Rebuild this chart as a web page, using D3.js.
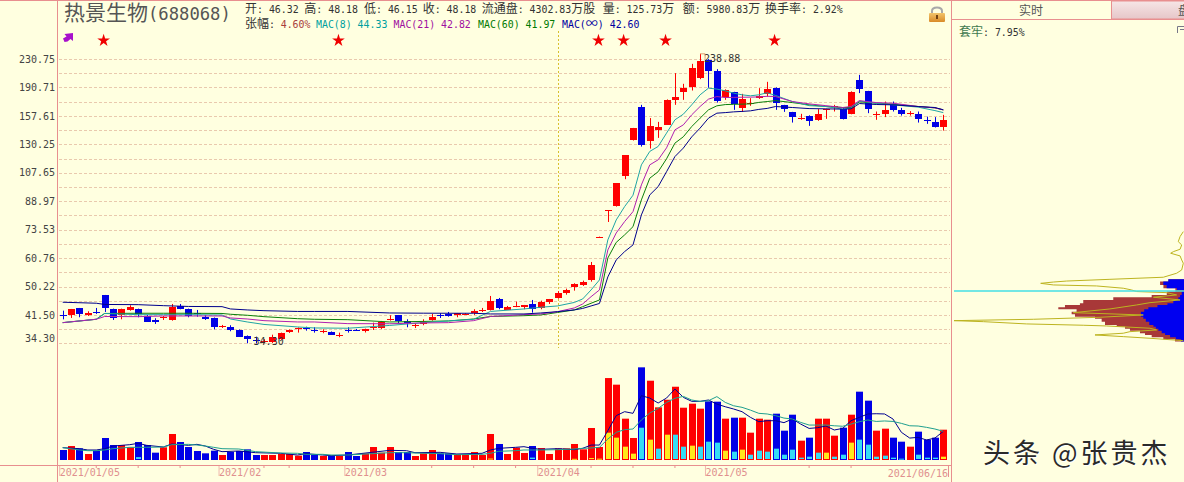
<!DOCTYPE html>
<html lang="zh">
<head>
  <meta charset="UTF-8">
  <title>热景生物(688068)</title>
  <script src="https://cdn.jsdelivr.net/npm/d3@7"></script>
  <style>
    html, body { margin: 0; padding: 0; background: #ffffe0; overflow: hidden; }
    svg { display: block; }
    text { white-space: pre; }
  </style>
</head>
<body>
<script>
  // K线
  const opens = [41.6,41.42,43.41,41.42,42.43,47.36,43.12,41.42,42.92,43.12,
    41.22,40.05,40.48,40.13,44.09,43.12,41.92,41.03,40.68,38.22,
    38.22,37.53,36.06,35.17,34.73,34.70,35.27,36.97,37.87,37.91,
    37.6,37.04,37.04,36.23,37.6,37.6,37.11,37.97,38.04,40.13,
    41.42,39.87,38.77,39.08,40.13,41.36,41.86,41.3,41.7,41.98,
    42.71,42.92,46.11,43.0,44.0,43.7,44.68,43.7,45.28,46.51,
    48.0,50.17,50.99,52.48,69.7,83.2,85.8,105.6,134.2,167.4,
    133.6,143.8,148.7,175.9,185.6,191.9,203.4,229.5,212.7,178.7,
    184.8,166.3,170,177,181.9,189.8,169.4,161.6,155.2,157.7,
    153.5,164.1,167.5,165.2,159.8,200.7,186.1,158.4,159.8,170.5,
    164.1,159.8,160,153.5,151.2,145.9]
  const closes = [41.55,43.12,41.7,41.98,42.26,43.3,40.48,43.12,43.7,41.58,
    39.68,39.42,40.87,43.88,43.3,41.03,41.64,40.48,38.37,38.55,
    37.53,35.89,35.27,35.03,34.87,35.89,36.72,37.53,38.04,37.79,
    37.45,37.16,36.37,36.37,37.45,37.45,37.71,38.22,39.6,40.32,
    39.79,39.34,38.87,39.6,40.87,41.22,41.22,41.98,41.86,42.54,
    42.92,45.68,43.3,43.88,44.17,44.29,43.12,45.37,46.11,48.1,
    49.08,51.09,51.89,58.03,70.17,83.63,100.4,121.2,145.1,129.8,
    147.4,146.4,175.5,179,190.2,217.5,228,213.6,173.5,187.7,
    170.8,177,171.6,179.9,188.6,171.2,164.9,156.3,155.6,152.8,
    159.8,164.9,168,154.9,185.2,189,164.4,159.8,164.4,164.1,
    159.4,160.3,154.5,152.9,146.4,153.2]
  const highs = [42.72,43.21,43.5,42.54,43.5,47.46,43.3,43.3,44.29,43.3,
    41.5,40.6,41.22,44.68,44.68,43.3,42.92,41.42,40.8,38.82,
    38.74,37.66,36.18,35.89,35.27,36.37,36.87,37.66,38.17,38.37,
    38.22,37.71,37.16,36.87,38.22,37.79,37.87,39.42,39.87,41.42,
    41.5,40.32,39.26,40.32,41.78,41.98,42.34,42.06,41.98,43.12,
    43.5,47.14,46.51,44.09,45.37,44.38,45.89,45.68,46.2,48.67,
    49.5,51.33,52.24,59.2,70.17,83.63,100.4,121.2,145.4,169.7,
    155.3,151.4,176,209.9,195.4,223.4,238.88,230.6,215.6,188.3,
    185.2,182.7,177.5,189.8,198,190.8,169.7,161.9,159.8,158.2,
    164.9,165.2,169.7,165.8,185.8,207.5,186.4,162.3,173.5,173.5,
    166.3,162.7,162.3,156.8,156.3,158.7]
  const lows = [40.3,40.68,40.87,41.22,41.78,42.34,40.13,40.32,42.71,40.87,
    39.6,39.08,40.13,39.95,43.12,40.87,41.03,40.13,37.7,38.04,
    37.21,35.82,34.33,34.30,34.32,34.40,35.10,36.79,36.87,37.36,
    36.87,36.72,36.30,35.75,36.87,37.29,36.9,37.53,37.79,39.95,
    39.26,38.22,38.04,38.74,39.95,40.68,41.03,40.87,41.5,41.5,
    42.34,42.77,43.12,42.92,43.73,43.12,42.15,43.12,44.68,46.29,
    47.55,48.85,50.41,51.89,69.7,77.4,85.8,103.1,133.6,128.3,
    126.6,136,148.4,169.7,175.5,186.8,201.6,190.2,172.3,175.5,
    164.1,161.9,168.6,176.6,179.4,164.1,161.9,150.7,153.5,147.4,
    152.5,154.5,162.3,153.9,159.3,183.6,160.5,153.5,156.3,162.3,
    157.9,157.9,150.7,149.4,145.8,142.8]

  // 成交量(万)
  const volumes = [41.5,58,48.4,24.9,38.7,91.3,62.2,62.2,52.6,74.7,
    62.2,30.4,52.6,107.9,74.7,53.9,37.3,27.7,38.7,20.7,
    33.2,37.3,44.3,20.7,20.7,20.7,24.9,24.9,18,33.2,
    20.7,16.6,16.6,16.6,33.2,16.6,27.7,53.9,30.4,53.9,
    33.2,33.2,16.6,27.7,41.5,27.7,27.7,24.9,24.9,33.2,
    20.7,107.9,66.4,24.9,51.2,29,58.1,49.8,24.9,48.4,
    48.4,66.4,44.3,132.8,53.9,340,312.6,171.5,91.3,384.5,
    329,218.5,250,304,217,233.7,213,243.4,242,171.5,
    175.6,175.6,113.4,171.5,167.3,192.2,121.7,188,80.2,92.7,
    171.5,171.5,101,134,188,283.5,246.2,121.7,130,92.7,
    76,55.3,117.6,84.4,92.7,125.73]
  const innerIdx = [9,51,56,61,63,64,65,66,67,68,69,70,71,72,73,74,75,76,77,78,79,80,81,82,83,84,85,86,87,88,89,90,91,92,93,94,95,96,97,98,99,100,102,103,104,105]
  const innerVol = [12,6,10,5,8,5.5,113.4,92.7,55.3,26.3,134,84.4,47,105,105,55.3,59.5,55.3,76,72,38.7,34.6,42.9,22,38.7,34.6,47,22,42.9,9.7,13.8,30.4,30.4,13.8,22,72,84.4,63.6,13.8,18,9.7,5.5,22,9.7,9.7,13.8]
  const innerKind = ['c','y','c','y','y','y','y','y','y','y','c','y','c','y','c','c','y','c','c','c','y','c','y','c','c','c','c','c','c','c','c','c','y','c','c','y','c','c','c','c','c','c','c','c','c','y']

  // 均线折点(K线序号)
  const maIdx = [0,4,5,9,12,15,19,20,22,24,
    28,30,34,39,43,46,49,51,55,57,
    59,61,62,63,64,65,66,67,68,69,
    70,71,72,73,74,75,76,77,78,79,
    80,81,82,83,84,85,87,89,91,93,
    94,95,97,99,102,104,105]
  const mac8 = [39.42,40.32,41.92,41.58,41.58,41.58,41.5,40.4,39.6,38.95,
    38.3,38.04,37.97,38.69,39.42,39.87,40.32,42.49,43.21,43.7,
    44.09,45.13,46.2,49.08,52.48,68.63,78.47,85.8,92.6,113.5,
    124.2,128.4,140.4,153.5,159.4,169.7,181.5,189.8,188.6,186.4,
    183.6,181.5,180.3,181.5,184,180.7,173.5,168.8,167.8,164.9,
    166,174,171.6,169.7,167.1,163.3,161.1]
  const mac21 = [39.42,40.32,41.08,41.03,41.22,41.22,41.22,40.68,40.4,39.95,
    39.6,39.6,39.16,39.13,39.34,39.42,39.95,41.08,41.58,41.78,
    42.43,43.5,44.68,46.91,49.08,64.17,71.9,77.6,82.96,99.24,
    113.5,117.4,127.2,143.5,148.4,158.7,167.8,176.3,179.4,178.2,
    178.4,178.6,178.7,179,179.7,179.4,173.5,170.8,168.8,166.7,
    167.8,174.6,172.3,171.6,167.8,166.3,164.1]
  const mac60 = [39.42,40.32,41.92,41.98,41.98,41.98,41.92,41.7,41.42,41.03,
    40.48,40.32,40.21,39.6,39.74,39.87,40.4,41.08,41.3,41.5,
    42.2,42.92,43.88,44.89,45.89,60.8,67.5,70.97,75.0,89.74,
    103.8,108.4,118.2,131.3,137,146.7,155.2,164.1,168.6,170,
    170.3,170.5,170.8,172.5,173.5,174.6,172.3,169.7,167.8,166.7,
    166.7,173.1,171.6,170.5,167.8,166.3,164.1]
  const macAll = [45.2,44.9,44.53,44.47,44.17,43.94,43.88,43.21,42.92,42.71,
    42.49,42.49,42.49,42.06,42.0,41.98,41.98,41.78,41.78,42.06,
    42.43,42.92,43.36,44.09,44.83,53.55,60.01,63.45,66.36,81.15,
    92.8,98.1,108.4,120,127,136.9,145.2,155.2,160.5,161.1,
    161.9,162.4,163,164.6,165.7,167.8,166.7,165.5,165.2,164.9,
    165.2,171.2,170.1,169.7,167.8,166.7,164.1]

  // 量均线折点
  const volMaIdx = [0,2,3,4,5,6,8,9,10,12,
    13,15,16,17,18,19,21,23,26,28,
    29,31,32,34,39,41,42,45,47,50,
    51,52,54,55,56,57,59,61,62,
    63,64,65,66,67,68,69,70,71,72,73,74,75,76,77,78,79,80,81,82,83,84,
    85,86,87,88,89,90,91,92,93,94,95,96,97,98,99,100,101,102,103,104,105]
  const volMaShort = [51.2,47,41.5,41.5,47,58,63.6,69.2,60.9,53.9,
    66.4,60.9,65,58,44.3,34.6,37.3,30.4,27.7,20.7,
    26.3,20.7,18,20.7,40.1,38.7,30.4,31.8,24.9,27.7,
    41.5,48.4,52.6,55.3,48.4,44.3,47,42.9,48.4,
    62,62,121.7,184,200.5,193.6,267,257,236.5,257,294.6,260,243.4,243.4,249,232,221,211.6,200.5,177,159,163,
    163,155,170,149,131,134,141,124.5,131,163,177,191,192,191,170,115,91,94,83,91,119]
  const volMaLong = [51.2,41.5,38.7,38.7,41.5,47,52.6,52.6,52.6,53.9,
    63.6,65,62.2,58,52.6,47,45.6,34.6,29,27.7,
    23.5,23.5,20.7,20.7,30.4,30.4,29,26.3,22.1,23.5,
    27.7,36,38.7,41.5,41.5,41.5,42.9,45.6,48.4,
    49.8,52.6,87,114.8,125.9,128.6,166,195,214,239,256,264,249,243,246,263,239,225,218.5,207,193.6,191,
    184,174,170,156,145,145,145,142,140,149,159,166,160,162,160,152,142,141,135.5,128.6,119]

  const priceTicks = [230.75,190.71,157.61,130.25,107.65,88.97,73.53,60.76,50.22,41.50,34.30]
  const gridLevels = [230.75,209.8,190.71,173.4,157.61,143.3,130.25,118.4,107.65,97.9,88.97,80.9,73.53,66.85,60.76,55.25,50.22,45.65,41.50,37.73,34.30]
  const starIdx = [5,33,64,67,72,85]
  const dateIdx = [0,19,34,57,77]
  const dateLabels = ['2021/01/05','2021/02','2021/03','2021/04','2021/05']
  const minorIdx = [4,9,14,24,27,44,49,54,63,68,73,89,94]

  // 筹码分布
  const chipPrice = [52.7,51.9,50.75,49.65,49.08,48.55,47.46,46.75,45.89,44.9,44.38,43.73,43.15,42.43,41.7,41.03,40.48,39.68,38.82,38.37,37.87,37.36,36.72,36.3,35.75,35.29,34.73]
  const chipBrown = [3.2,10.4,10.4,7.5,0,7.5,7.5,20.6,40.9,46.7,43.8,59.7,49.6,43.8,53.9,40.9,36.5,35.1,33.6,24.9,26.4,20.6,17.7,16.2,11.9,6.1,1.7]
  const chipBlue = [4.6,9,9,6.1,0,0.3,1.7,1.7,3.2,6.1,8.3,14.8,16.2,18.4,19.1,18.4,17,16.2,14,12.6,11.9,10.4,9,7.5,4.6,2.5,0]
  const oliveValue = [0.3,1.7,2.5,1,1.7,4.6,5.8,1.7,1,0.3,1,3.2,9,32.2,51,56.8,62.3,56.8,38,26.4,22.8,20.6,7.5,3.2,13.3,1.7,14.8,20.6,32.2,48.1,17.7,36.5,65.5,100,87.2,68.4,43.8,33.6,14.8,11.9,23.5,26.4,38.7,26.4,14.8,0.3]
  const olivePrice = [72.55,70.2,67.85,66.36,64.47,63.45,62.77,61.65,60.01,58.69,56.12,54.89,53.44,52.7,52.1,51.75,51.3,50.75,50.41,49.65,49.08,48.55,48.2,47.46,46.75,45.89,45.07,44.38,43.21,42.15,41.5,40.87,40.32,39.95,39.68,39.08,38.74,38.55,37.97,37.53,37.11,36.72,36.3,35.89,35.5,34.94]
  const costPrice = 48.7

  const width = 1184
  const height = 482
  const frameColor = '#e88f8f'
  const upColor = '#ff0000'
  const downColor = '#0000e6'
  const mono = '"DejaVu Sans Mono", monospace'
  const cjk = '"Noto Sans CJK SC", sans-serif'

  const svg = d3.select('body').append('svg').attr('width', width).attr('height', height)

  const x = d3.scaleBand().domain(d3.range(opens.length)).range([58.5, 947.5])
  const cx = i => x(i) + x.bandwidth() / 2
  const y = d3.scaleLog().domain([34.30, 230.75]).range([343.4, 59])
  const yVol = d3.scaleLinear().domain([0, 400]).range([460, 363.6])
  const chip = d3.scaleLinear().domain([0, 100]).range([1184, 954])

  // 中文12px, 西文等宽
  function richText(parent, px, py, str, fill) {
    const t = parent.append('text').attr('x', px).attr('y', py).attr('fill', fill)
    str.split(/([^\x00-\x7f]+)/).filter(s => s).forEach(s => {
      const wide = /[^\x00-\x7f]/.test(s)
      t.append('tspan').text(s)
        .style('font-family', wide ? cjk : mono)
        .style('font-size', wide ? '12px' : '9.9px')
    })
    return t
  }

  // 网格
  svg.append('g').selectAll('line').data(gridLevels).join('line')
    .attr('x1', 59).attr('x2', 950)
    .attr('y1', d => Math.round(y(d)) + 0.5).attr('y2', d => Math.round(y(d)) + 0.5)
    .attr('stroke', '#e9c9ae').attr('stroke-dasharray', '3,2')

  // 价格轴
  const yAxis = svg.append('g')
    .attr('transform', 'translate(57,0)')
    .call(d3.axisLeft(y).tickValues(priceTicks).tickSize(0).tickPadding(2).tickFormat(d => d.toFixed(2)))
  yAxis.select('.domain').remove()
  yAxis.selectAll('text').style('font-family', mono).style('font-size', '10px').attr('fill', '#444')
  yAxis.selectAll('.tick').filter(d => d === 34.30).select('text').attr('dy', '-0.2em')

  // 日期轴
  const dateAxis = svg.append('g')
    .attr('transform', 'translate(-3,465)')
    .call(d3.axisBottom(x).tickValues(dateIdx).tickSize(11).tickPadding(-7).tickSizeOuter(0)
      .tickFormat((d, i) => dateLabels[i]))
  dateAxis.select('.domain').remove()
  dateAxis.selectAll('line').attr('stroke', '#f0b8b0')
  dateAxis.selectAll('text').attr('text-anchor', 'start').attr('x', 0).attr('fill', '#e08f8f')
    .style('font-family', mono).style('font-size', '10px')
  const minorAxis = svg.append('g')
    .attr('transform', 'translate(0,465)')
    .call(d3.axisBottom(x).tickValues(minorIdx).tickSize(3).tickFormat(''))
  minorAxis.select('.domain').remove()
  minorAxis.selectAll('line').attr('stroke', frameColor)
  svg.append('text').attr('x', 948).attr('y', 477).attr('text-anchor', 'end')
    .attr('fill', '#e08f8f').style('font-family', mono).style('font-size', '10px').text('2021/06/16')
  svg.append('line').attr('x1', 948.5).attr('x2', 948.5).attr('y1', 465).attr('y2', 477).attr('stroke', frameColor)

  // 黄色虚线
  svg.append('line')
    .attr('x1', Math.round(cx(59)) + 0.5).attr('x2', Math.round(cx(59)) + 0.5)
    .attr('y1', 31).attr('y2', 348)
    .attr('stroke', '#d8c030').attr('stroke-dasharray', '2,2')

  // 影线
  const candleIdx = d3.range(opens.length)
  const colorOf = i => closes[i] >= opens[i] ? upColor : downColor
  svg.append('g').selectAll('line').data(candleIdx).join('line')
    .attr('x1', i => Math.round(cx(i)) + 0.5).attr('x2', i => Math.round(cx(i)) + 0.5)
    .attr('y1', i => y(highs[i])).attr('y2', i => y(lows[i]))
    .attr('stroke', colorOf)

  // 实体
  svg.append('g').selectAll('rect').data(candleIdx).join('rect')
    .attr('x', i => Math.round(cx(i)) - 3).attr('width', 7)
    .attr('y', i => Math.round(y(Math.max(opens[i], closes[i]))))
    .attr('height', i => Math.max(1, Math.round(Math.abs(y(opens[i]) - y(closes[i])))))
    .attr('fill', colorOf)

  // 均线
  const maLine = d3.line().x((d, i) => cx(maIdx[i])).y(d => y(d))
  const maSeries = [[mac60, '#0a800a'], [mac8, '#1fa5a5'], [mac21, '#b020b0'], [macAll, '#00008c']]
  svg.append('g').attr('fill', 'none').selectAll('path').data(maSeries).join('path')
    .attr('d', d => maLine(d[0]))
    .attr('stroke', d => d[1]).attr('stroke-width', 1)

  // 星标
  svg.append('g').attr('fill', '#f00000').selectAll('path').data(starIdx).join('path')
    .attr('d', d3.symbol(d3.symbolStar, 50))
    .attr('transform', i => `translate(${cx(i) - 1},40.5)`)

  // 箭头
  svg.append('path')
    .attr('d', 'M64.5,42 L63,38.5 L66.5,36.5 L64.5,34 L73,33 L73,41 L70.5,39 L67.5,41.5 Z')
    .attr('fill', '#a810cc')

  // 最高/最低标注
  svg.append('path')
    .attr('d', `M${cx(76)},${y(238.88)}H${cx(76) + 5}V${y(238.88) + 5}`)
    .attr('fill', 'none').attr('stroke', '#e0a070')
  svg.append('text').attr('x', cx(76) + 4).attr('y', y(238.88) + 8)
    .attr('fill', '#333').style('font-family', mono).style('font-size', '10px').text('238.88')
  svg.append('text').attr('x', cx(23) - 2).attr('y', y(34.30) + 2)
    .attr('fill', '#333').style('font-family', mono).style('font-size', '10px').text('34.30')

  // 成交量
  svg.append('g').selectAll('rect').data(candleIdx).join('rect')
    .attr('x', i => Math.round(cx(i)) - 3).attr('width', 7)
    .attr('y', i => yVol(volumes[i])).attr('height', i => yVol(0) - yVol(volumes[i]))
    .attr('fill', colorOf)
  svg.append('g').selectAll('rect').data(innerIdx).join('rect')
    .attr('x', i => Math.round(cx(i)) - 2).attr('width', 5)
    .attr('y', (d, k) => yVol(innerVol[k]))
    .attr('height', (d, k) => Math.max(1, yVol(0) - yVol(innerVol[k]) - 1))
    .attr('fill', (d, k) => innerKind[k] === 'y' ? '#ffe81c' : '#35dcf5')

  const volLine = d3.line().x((d, i) => cx(volMaIdx[i])).y(d => yVol(d))
  svg.append('path').attr('d', volLine(volMaShort)).attr('fill', 'none').attr('stroke', '#000090')
  svg.append('path').attr('d', volLine(volMaLong)).attr('fill', 'none').attr('stroke', '#1f9f8f')

  // 筹码
  const chipRows = chipPrice.map((p, i) => ({ p, brown: chipBrown[i], blue: chipBlue[i] }))
  svg.append('path')
    .attr('d', d3.area().curve(d3.curveStep).y(d => y(d.p)).x0(chip(0)).x1(d => chip(d.brown))(chipRows))
    .attr('fill', '#a83838')
  svg.append('path')
    .attr('d', d3.area().curve(d3.curveStep).y(d => y(d.p)).x0(chip(0)).x1(d => chip(d.blue))(chipRows))
    .attr('fill', '#0000f0')
  svg.append('path')
    .attr('d', d3.line().x(d => chip(d[0])).y(d => y(d[1]))(d3.zip(oliveValue, olivePrice)))
    .attr('fill', 'none').attr('stroke', '#bdb420').attr('stroke-width', 1)
  svg.append('line')
    .attr('x1', chip(100)).attr('x2', chip(0))
    .attr('y1', y(costPrice)).attr('y2', y(costPrice))
    .attr('stroke', '#45dfe6').attr('stroke-width', 1.5)

  // 外框
  const frame = svg.append('g').attr('stroke', frameColor)
  frame.append('line').attr('x1', 0).attr('x2', width).attr('y1', 0.5).attr('y2', 0.5)
  frame.append('line').attr('x1', 57.5).attr('x2', 57.5).attr('y1', 0).attr('y2', height)
  frame.append('line').attr('x1', 951.5).attr('x2', 951.5).attr('y1', 0).attr('y2', height)
  frame.append('line').attr('x1', 0).attr('x2', 951).attr('y1', 465.5).attr('y2', 465.5)
  frame.append('line').attr('x1', 952).attr('x2', width).attr('y1', 19.5).attr('y2', 19.5)

  // 右上页签
  const tabGrad = svg.append('defs').append('linearGradient').attr('id', 'tabGrad')
    .attr('x1', 0).attr('x2', 0).attr('y1', 0).attr('y2', 1)
  tabGrad.append('stop').attr('offset', 0).attr('stop-color', '#f6e6e6')
  tabGrad.append('stop').attr('offset', 1).attr('stop-color', '#e6c6c8')
  svg.append('rect').attr('x', 1111.5).attr('y', 1).attr('width', 73).attr('height', 18)
    .attr('fill', 'url(#tabGrad)').attr('stroke', frameColor)
  svg.append('text').attr('x', 1031).attr('y', 14.5).attr('text-anchor', 'middle')
    .attr('fill', '#555').style('font-family', cjk).style('font-size', '12px').text('实时')
  svg.append('text').attr('x', 1178).attr('y', 14.5)
    .attr('fill', '#555').style('font-family', cjk).style('font-size', '12px').text('盘')
  svg.append('path').attr('d', 'M1184,26.5H1177.5V33M1180,29.5H1184')
    .attr('fill', 'none').attr('stroke', '#778')
  richText(svg, 959, 36, '套牢', '#3f7a4f')
  richText(svg, 983, 36, ': 7.95%', '#333')

  // 标题
  const title = svg.append('text').attr('x', 64).attr('y', 20).attr('fill', '#555')
  title.append('tspan').text('热景生物').style('font-family', cjk).style('font-size', '21px')
  title.append('tspan').text('(688068)').style('font-family', mono).style('font-size', '17.2px')

  const row1 = [[245, '开: 46.32'], [304.3, '高: 48.18'], [364, '低: 46.15'], [422.7, '收: 48.18'],
    [481.7, '流通盘: 4302.83万股'], [602.7, '量: 125.73万'], [682.7, '额: 5980.83万'], [765, '换手率: 2.92%']]
  row1.forEach(d => richText(svg, d[0], 13, d[1], '#333'))
  richText(svg, 245, 28, '张幅:', '#333')
  const row2 = [[280.7, '4.60%', '#a83c3c'], [316, 'MAC(8) 44.33', '#009f9f'], [393.5, 'MAC(21) 42.82', '#a010a0'], [478, 'MAC(60) 41.97', '#007a00'], [562, 'MAC(∞) 42.60', '#0000a0']]
  row2.forEach(d => richText(svg, d[0], 28, d[1], d[2]))

  // 锁
  svg.append('path').attr('d', 'M932,14V11Q932,7.5 937,7.5Q942,7.5 942,11V14')
    .attr('fill', 'none').attr('stroke', '#a8a8a8').attr('stroke-width', 2)
  const lockGrad = svg.select('defs').append('linearGradient').attr('id', 'lockGrad')
    .attr('x1', 0).attr('x2', 0).attr('y1', 0).attr('y2', 1)
  lockGrad.append('stop').attr('offset', 0).attr('stop-color', '#f2c46a')
  lockGrad.append('stop').attr('offset', 1).attr('stop-color', '#d98a28')
  svg.append('rect').attr('x', 929).attr('y', 13).attr('width', 16).attr('height', 9).attr('rx', 1).attr('fill', 'url(#lockGrad)')
  svg.append('rect').attr('x', 936).attr('y', 15).attr('width', 2).attr('height', 4).attr('fill', '#704010')

  // 水印
  ;[[1, 1, '#ffffff'], [0, 0, '#2a2a2a']].forEach(d => {
    svg.append('text').attr('x', 983 + d[0]).attr('y', 463 + d[1]).attr('fill', d[2])
      .style('font-family', cjk).style('font-size', '27px').style('letter-spacing', '3px')
      .text('头条 @张贵杰')
  })
</script>
</body>
</html>
